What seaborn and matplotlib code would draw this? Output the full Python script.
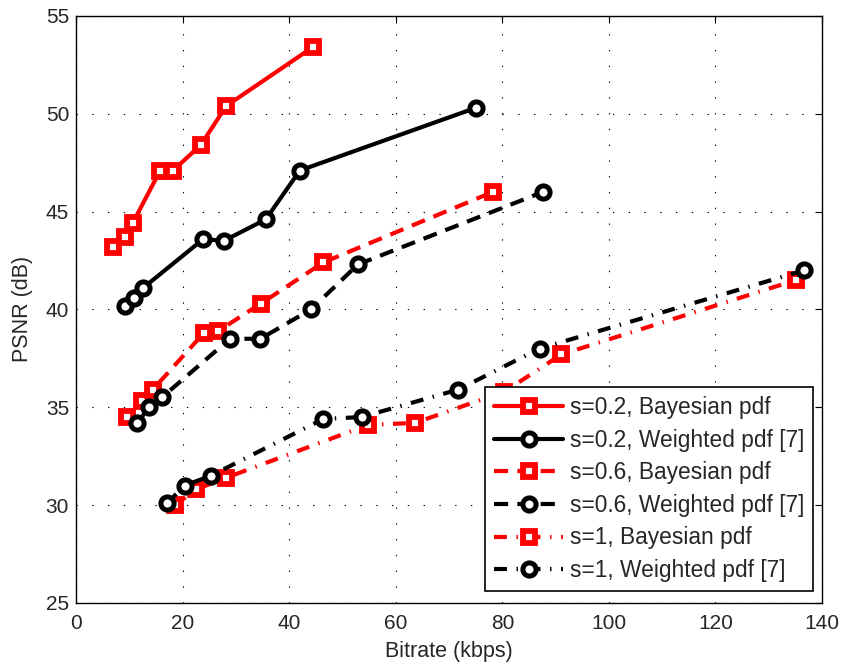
import matplotlib
matplotlib.use("agg")
import matplotlib.pyplot as plt
import seaborn as sns
import pandas as pd

# s=0.2
bay02_x = [7.0, 9.1, 10.6, 15.8, 18.2, 23.4, 28.2, 44.4]
bay02_y = [43.2, 43.7, 44.4, 47.1, 47.1, 48.4, 50.4, 53.4]
wtd02_x = [9.1, 10.9, 12.6, 23.9, 27.7, 35.6, 42.0, 75.0]
wtd02_y = [40.2, 40.6, 41.1, 43.6, 43.5, 44.6, 47.1, 50.3]
# s=0.6
bay06_x = [9.5, 12.3, 14.4, 24.0, 26.7, 34.7, 46.4, 78.2]
bay06_y = [34.5, 35.3, 35.9, 38.8, 38.9, 40.3, 42.4, 46.0]
wtd06_x = [11.5, 13.7, 16.1, 28.9, 34.6, 44.1, 52.9, 87.6]
wtd06_y = [34.2, 35.0, 35.5, 38.5, 38.5, 40.0, 42.3, 46.0]
# s=1
bay1_x = [18.6, 22.5, 28.2, 54.8, 63.6, 80.4, 91.1, 135.1]
bay1_y = [30.0, 30.8, 31.4, 34.1, 34.2, 35.8, 37.7, 41.5]
wtd1_x = [17.1, 20.4, 25.3, 46.4, 53.6, 71.7, 87.0, 136.7]
wtd1_y = [30.1, 31.0, 31.5, 34.4, 34.5, 35.9, 38.0, 42.0]

labels = ["s=0.2, Bayesian pdf", "s=0.2, Weighted pdf [7]",
          "s=0.6, Bayesian pdf", "s=0.6, Weighted pdf [7]",
          "s=1, Bayesian pdf", "s=1, Weighted pdf [7]"]

solid = (None, None)
dashed = (3.4, 2.2)
dashdot = (3.1, 2.3, 0.35, 2.3)

series = [
    (bay02_x, bay02_y, "red", solid, "s"),
    (wtd02_x, wtd02_y, "black", solid, "o"),
    (bay06_x, bay06_y, "red", dashed, "s"),
    (wtd06_x, wtd06_y, "black", dashed, "o"),
    (bay1_x, bay1_y, "red", dashdot, "s"),
    (wtd1_x, wtd1_y, "black", dashdot, "o"),
]

sns.set_style("white")
plt.rcParams['font.family'] = ['Liberation Sans', 'DejaVu Sans']

fig = plt.figure(figsize=(8.42, 6.64), dpi=100)
ax = fig.add_axes([0.0903, 0.092, 0.886, 0.884])

for (xs, ys, col, dash, mk), lab in zip(series, labels):
    df = pd.DataFrame({"x": xs, "y": ys})
    sns.lineplot(data=df, x="x", y="y", ax=ax, color=col,
                 linewidth=3, marker=mk,
                 markersize=9 if mk == "s" else 9.5,
                 markerfacecolor="white", markeredgecolor=col,
                 markeredgewidth=4.2 if mk == "s" else 3.6,
                 label=lab, sort=False, estimator=None)
    if dash[0] is not None:
        ax.lines[-1].set_dashes(dash)

ax.set_xlim(0, 140)
ax.set_ylim(25, 55)
ax.set_xticks(range(0, 141, 20))
ax.set_yticks(range(25, 56, 5))
ax.grid(True, linestyle=(0, (1.2, 13)), color="black", linewidth=0.8)
ax.tick_params(direction="in", top=True, right=True, length=5,
               labelsize=15, color="black")
ax.tick_params(axis="x", pad=8)
ax.tick_params(axis="y", pad=5)
for sp in ax.spines.values():
    sp.set_color("black")
    sp.set_linewidth(1)
ax.set_xlabel("Bitrate (kbps)", fontsize=15.5, labelpad=6)
ax.set_ylabel("PSNR (dB)", fontsize=15.5, labelpad=9)

leg = ax.legend(loc="lower right", bbox_to_anchor=(0.988, 0.02), fontsize=16.4,
                frameon=True, fancybox=False, edgecolor="black",
                handlelength=3.0, borderpad=0.4, labelspacing=0.42,
                handletextpad=0.3, borderaxespad=0.0, framealpha=1)
leg.get_frame().set_linewidth(1.2)

fig.savefig("out.png", dpi=100)
